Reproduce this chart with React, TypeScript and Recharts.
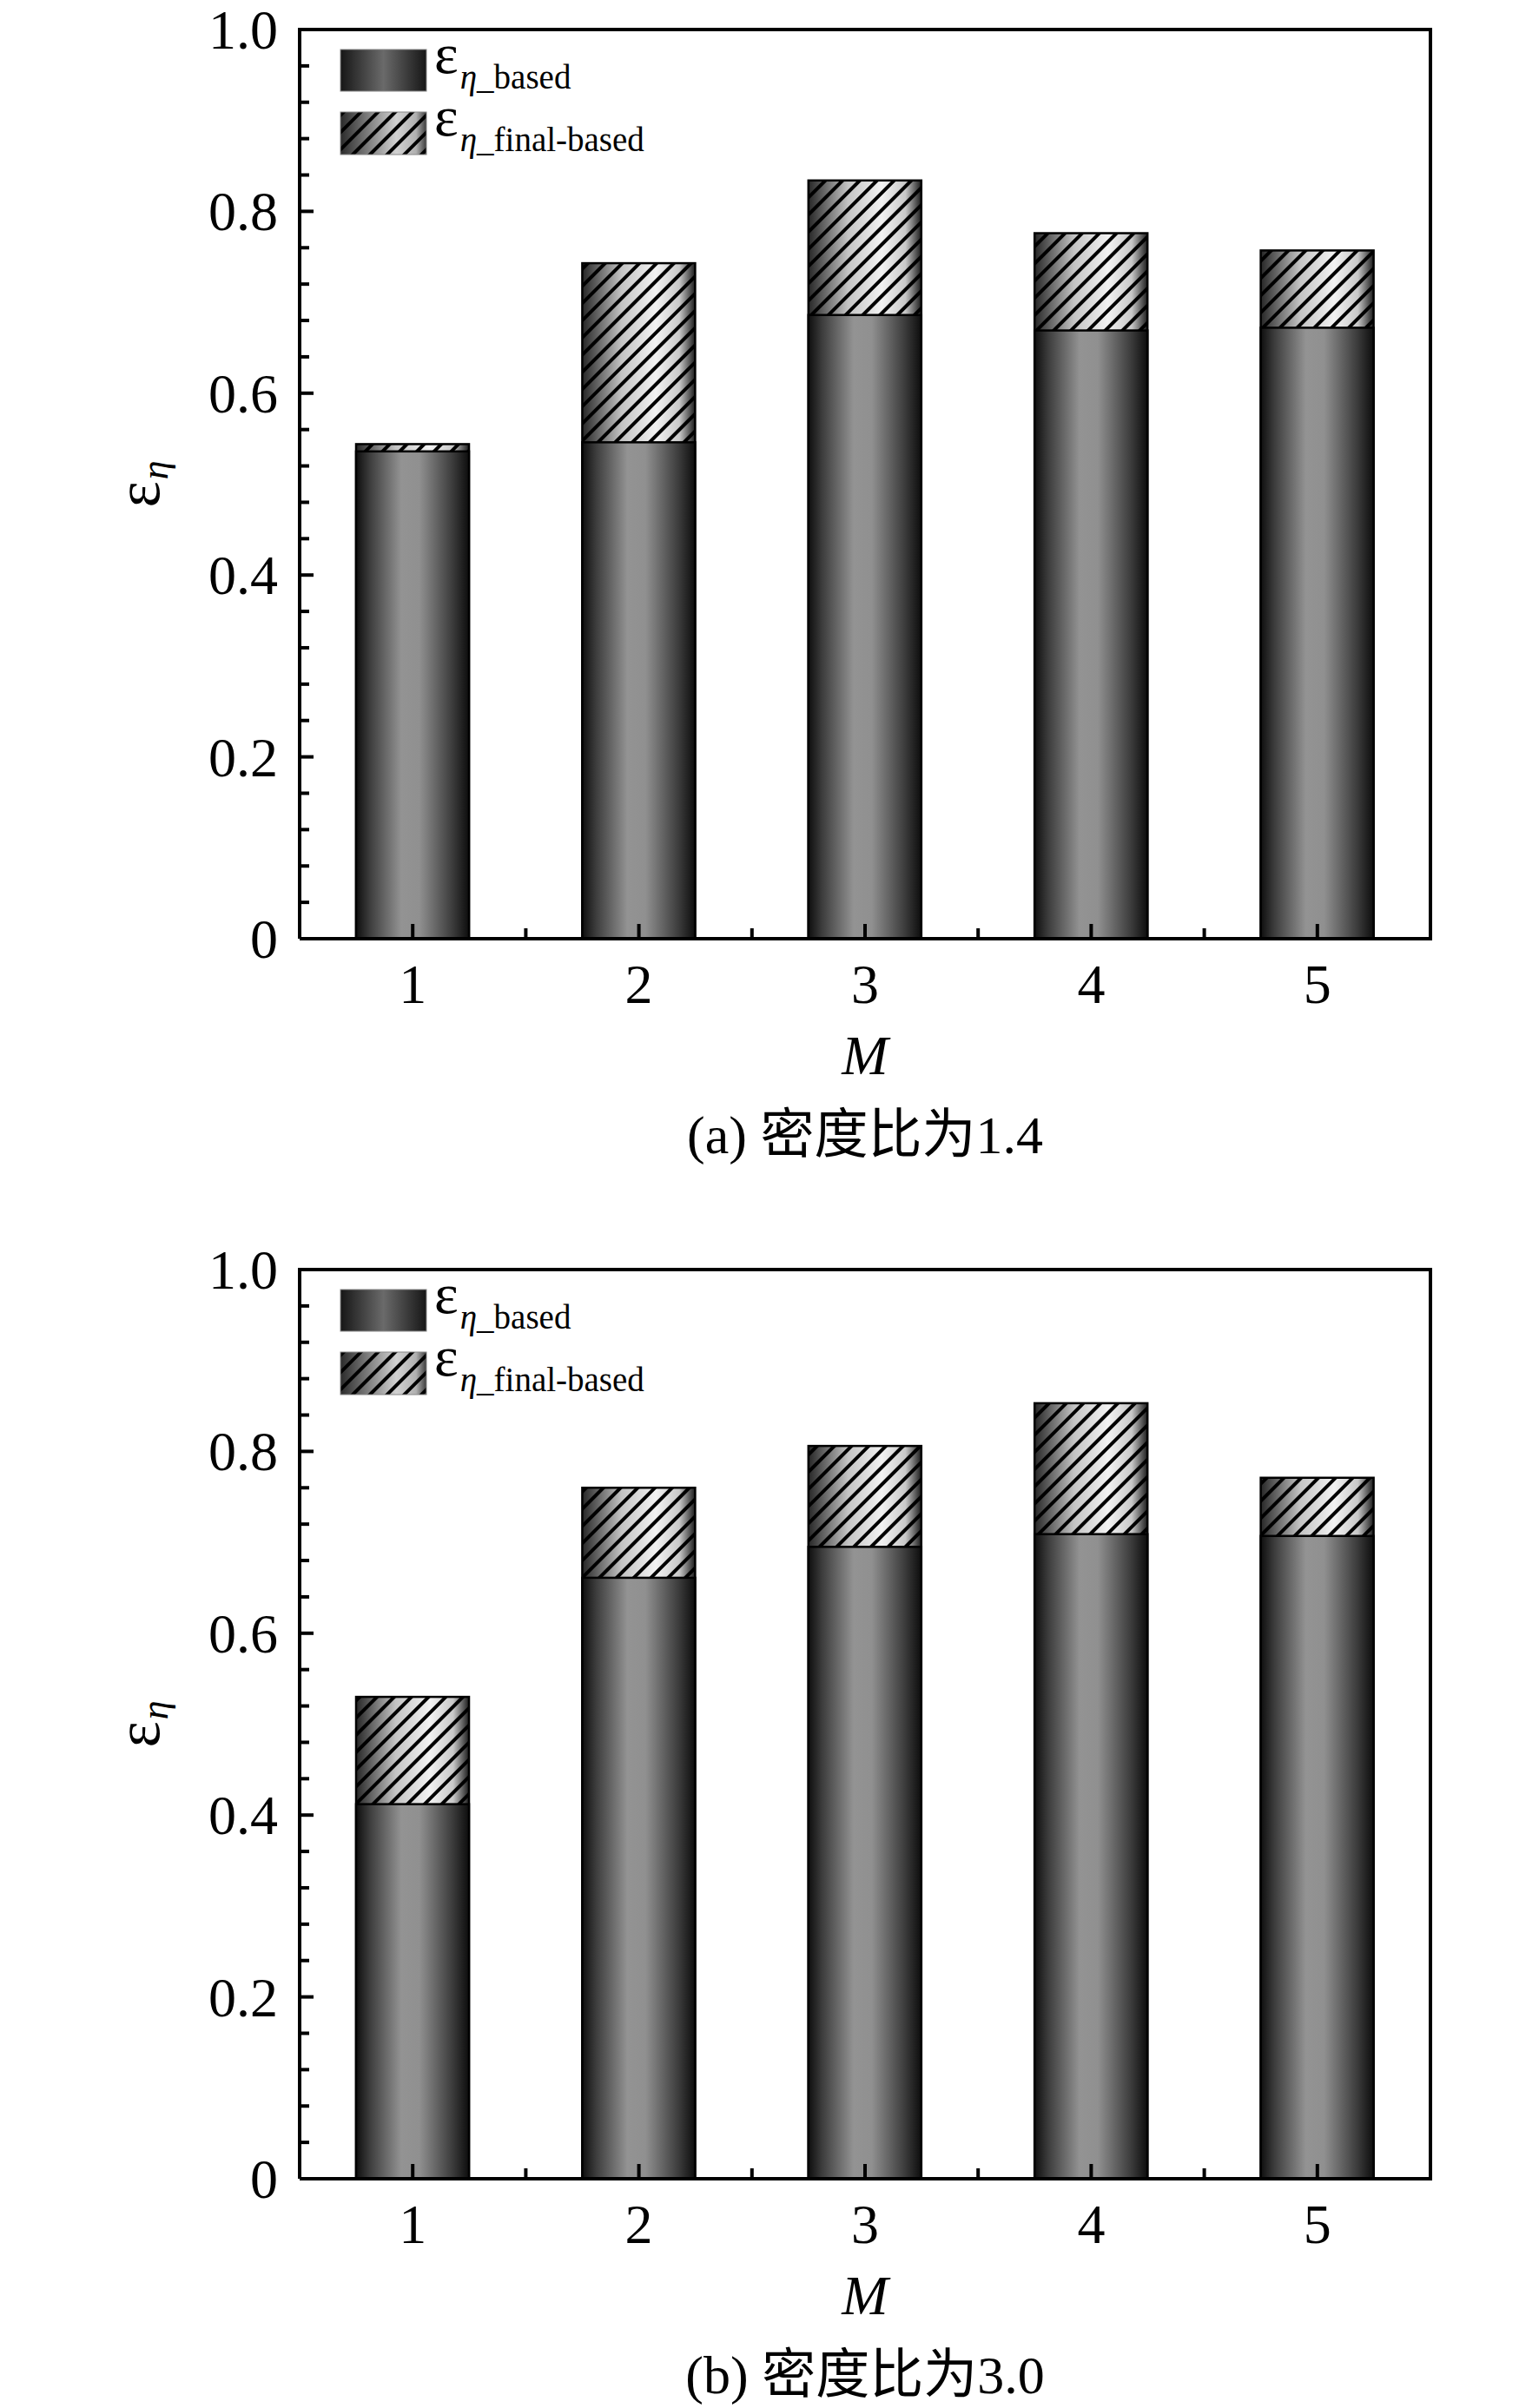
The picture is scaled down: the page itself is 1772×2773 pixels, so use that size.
import React from "react";
import { BarChart, Bar, XAxis, YAxis } from "recharts";

// M values on the x axis
const mValues = ["1", "2", "3", "4", "5"];

// (a) density ratio 1.4
const basedA = [0.536, 0.546, 0.686, 0.669, 0.672];
const finalA = [0.544, 0.743, 0.834, 0.776, 0.757];

// (b) density ratio 3.0
const basedB = [0.412, 0.661, 0.695, 0.709, 0.707];
const finalB = [0.53, 0.76, 0.806, 0.853, 0.771];

// y ticks: major every 0.2, minor every 0.04
const yTicks = [
  0, 0.04, 0.08, 0.12, 0.16, 0.2, 0.24, 0.28, 0.32, 0.36, 0.4, 0.44, 0.48, 0.52,
  0.56, 0.6, 0.64, 0.68, 0.72, 0.76, 0.8, 0.84, 0.88, 0.92, 0.96, 1.0,
];

const FONT = "'Liberation Serif', 'Times New Roman', 'Noto Sans CJK SC', serif";
const W = 1772;
const H = 1340;
const PLOT_LEFT = 345;
const PLOT_RIGHT = 1647;
const PLOT_TOP = 34;
const PLOT_BOTTOM = 1081;
const Y_AXIS_W = 100;
const X_AXIS_H = 60;
const BAND = (PLOT_RIGHT - PLOT_LEFT) / mValues.length;
const BAR_W = 130;

function YTick(props: any) {
  const { x, y, payload } = props;
  const v = payload.value as number;
  const major = Math.round(v * 100) % 20 === 0;
  return (
    <g>
      <line x1={x} x2={x + (major ? 16 : 11)} y1={y} y2={y} stroke="#000" strokeWidth={4} />
      {major && (
        <text x={x - 25} y={y + 22} textAnchor="end" fontFamily={FONT} fontSize={64} fill="#000">
          {v === 0 ? "0" : v.toFixed(1)}
        </text>
      )}
    </g>
  );
}

function XTick(props: any) {
  const { x, y, payload, index } = props;
  return (
    <g>
      <line x1={x} x2={x} y1={y} y2={y - 17} stroke="#000" strokeWidth={4} />
      {index < mValues.length - 1 && (
        <line x1={x + BAND / 2} x2={x + BAND / 2} y1={y} y2={y - 12} stroke="#000" strokeWidth={4} />
      )}
      <text x={x} y={y + 74} textAnchor="middle" fontFamily={FONT} fontSize={64} fill="#000">
        {payload.value}
      </text>
    </g>
  );
}

function XLabel(props: any) {
  const { viewBox } = props;
  return (
    <text
      x={viewBox.x + viewBox.width / 2}
      y={viewBox.y + 156}
      textAnchor="middle"
      fontFamily={FONT}
      fontSize={64}
      fontStyle="italic"
      fill="#000"
    >
      M
    </text>
  );
}

function YLabel(props: any) {
  const { viewBox } = props;
  const cx = viewBox.x + viewBox.width - 162;
  const cy = viewBox.y + viewBox.height / 2;
  return (
    <text
      transform={`translate(${cx},${cy}) rotate(-90)`}
      textAnchor="middle"
      fontFamily={FONT}
      fill="#000"
    >
      <tspan fontSize={72}>ε</tspan>
      <tspan fontSize={44} fontStyle="italic" dx={2} dy={10}>
        η
      </tspan>
    </text>
  );
}

function Panel({ id, based, final, caption }: { id: string; based: number[]; final: number[]; caption: string }) {
  const data = mValues.map((m, i) => ({ m, based: based[i], final: final[i] }));

  const BasedShape = (p: any) => (
    <rect
      x={p.x}
      y={p.y}
      width={p.width}
      height={p.height}
      fill={`url(#grad-based-${id})`}
      stroke="#000"
      strokeWidth={2.5}
    />
  );

  const FinalShape = (p: any) => (
    <g>
      <rect x={p.x} y={p.y} width={p.width} height={p.height} fill={`url(#grad-final-${id})`} />
      <rect x={p.x} y={p.y} width={p.width} height={p.height} fill={`url(#hatch-${id})`} />
      <rect x={p.x} y={p.y} width={p.width} height={p.height} fill="none" stroke="#000" strokeWidth={2.5} />
    </g>
  );

  return (
    <div style={{ position: "relative", width: W, height: H }}>
      <BarChart
        width={W}
        height={H}
        data={data}
        barGap={-BAR_W}
        margin={{
          top: PLOT_TOP,
          right: W - PLOT_RIGHT,
          left: PLOT_LEFT - Y_AXIS_W,
          bottom: H - PLOT_BOTTOM - X_AXIS_H,
        }}
      >
        <defs>
          <linearGradient id={`grad-based-${id}`} x1="0" y1="0" x2="1" y2="0">
            <stop offset="0%" stopColor="#0e0e0e" />
            <stop offset="12%" stopColor="#3c3c3c" />
            <stop offset="40%" stopColor="#939393" />
            <stop offset="56%" stopColor="#909090" />
            <stop offset="86%" stopColor="#3a3a3a" />
            <stop offset="100%" stopColor="#0d0d0d" />
          </linearGradient>
          <linearGradient id={`grad-final-${id}`} x1="0" y1="0" x2="1" y2="0">
            <stop offset="0%" stopColor="#262626" />
            <stop offset="35%" stopColor="#c4c4c4" />
            <stop offset="65%" stopColor="#f2f2f2" />
            <stop offset="86%" stopColor="#c8c8c8" />
            <stop offset="100%" stopColor="#1c1c1c" />
          </linearGradient>
          <pattern id={`hatch-${id}`} patternUnits="userSpaceOnUse" width={14} height={14} patternTransform="rotate(45)">
            <line x1={7} y1={0} x2={7} y2={14} stroke="#000" strokeWidth={4} />
          </pattern>
        </defs>
        <Bar dataKey="final" barSize={BAR_W} shape={FinalShape} isAnimationActive={false} />
        <Bar dataKey="based" barSize={BAR_W} shape={BasedShape} isAnimationActive={false} />
        <XAxis
          dataKey="m"
          height={X_AXIS_H}
          interval={0}
          tickSize={0}
          tickMargin={0}
          tickLine={false}
          axisLine={{ stroke: "#000", strokeWidth: 4 }}
          tick={<XTick />}
          label={<XLabel />}
        />
        <YAxis
          type="number"
          domain={[0, 1]}
          ticks={yTicks}
          interval={0}
          width={Y_AXIS_W}
          tickSize={0}
          tickMargin={0}
          tickLine={false}
          axisLine={{ stroke: "#000", strokeWidth: 4 }}
          tick={<YTick />}
          label={<YLabel />}
        />
      </BarChart>
      <svg
        width={W}
        height={H}
        style={{ position: "absolute", left: 0, top: 0, overflow: "visible", pointerEvents: "none" }}
      >
        <defs>
          <linearGradient id={`leg-based-${id}`} x1="0" y1="0" x2="1" y2="0">
            <stop offset="0%" stopColor="#161616" />
            <stop offset="50%" stopColor="#6a6a6a" />
            <stop offset="100%" stopColor="#161616" />
          </linearGradient>
          <linearGradient id={`leg-final-${id}`} x1="0" y1="0" x2="1" y2="0">
            <stop offset="0%" stopColor="#2a2a2a" />
            <stop offset="65%" stopColor="#d2d2d2" />
            <stop offset="88%" stopColor="#b0b0b0" />
            <stop offset="100%" stopColor="#3a3a3a" />
          </linearGradient>
        </defs>
        {/* top and right frame */}
        <path
          d={`M${PLOT_LEFT - 2},${PLOT_TOP} H${PLOT_RIGHT} V${PLOT_BOTTOM + 2}`}
          fill="none"
          stroke="#000"
          strokeWidth={4}
        />
        <rect x={392} y={57} width={99} height={48} fill={`url(#leg-based-${id})`} stroke="#888" strokeWidth={1} />
        <rect x={392} y={129} width={99} height={49} fill={`url(#leg-final-${id})`} />
        <rect x={392} y={129} width={99} height={49} fill={`url(#hatch-${id})`} stroke="#888" strokeWidth={1} />
        <text x={500} y={84} fontFamily={FONT} fill="#000">
          <tspan fontSize={66}>ε</tspan>
          <tspan fontSize={39} fontStyle="italic" dx={2} dy={18}>
            η
          </tspan>
          <tspan fontSize={39}>_based</tspan>
        </text>
        <text x={500} y={156} fontFamily={FONT} fill="#000">
          <tspan fontSize={66}>ε</tspan>
          <tspan fontSize={39} fontStyle="italic" dx={2} dy={18}>
            η
          </tspan>
          <tspan fontSize={39}>_final-based</tspan>
        </text>
        <text
          x={(PLOT_LEFT + PLOT_RIGHT) / 2}
          y={PLOT_BOTTOM + 247}
          textAnchor="middle"
          fontFamily={FONT}
          fontSize={62}
          fill="#000"
        >
          {caption}
        </text>
      </svg>
    </div>
  );
}

export default function App() {
  return (
    <div style={{ position: "absolute", left: 0, top: 0, width: W, height: 2773, background: "#fff", overflow: "hidden" }}>
      <div style={{ position: "absolute", left: 0, top: 0 }}>
        <Panel id="a" based={basedA} final={finalA} caption="(a) 密度比为1.4" />
      </div>
      <div style={{ position: "absolute", left: 0, top: 1428 }}>
        <Panel id="b" based={basedB} final={finalB} caption="(b) 密度比为3.0" />
      </div>
    </div>
  );
}
